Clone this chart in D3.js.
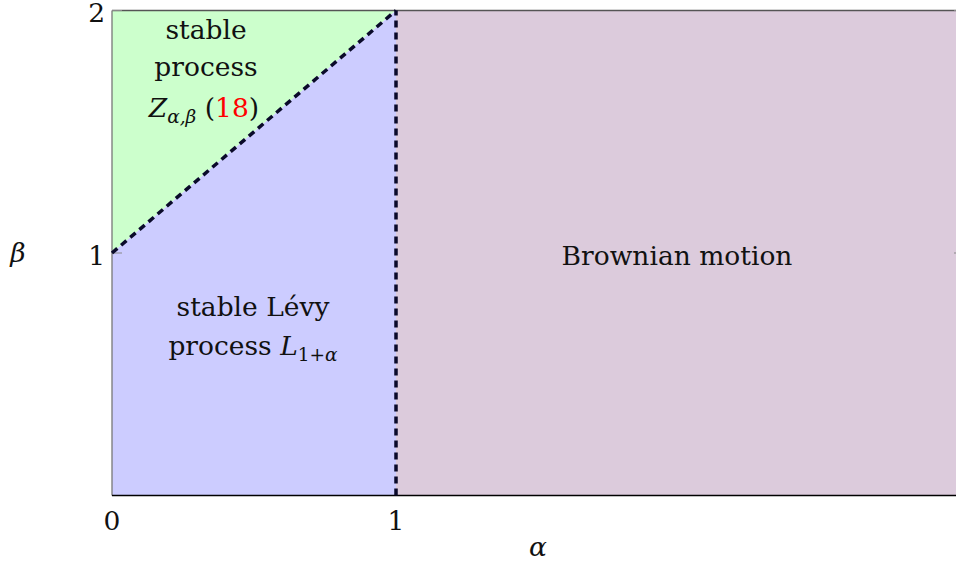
<!DOCTYPE html>
<html>
<head>
<meta charset="utf-8">
<script src="https://cdn.jsdelivr.net/npm/d3@7"></script>
<style>
body { margin: 0; background: #fff; }
</style>
</head>
<body>
<svg id="chart" width="956" height="569"></svg>
<script>
// regions of the (alpha, beta) plane
var greenRegion = [[0, 1], [1, 2], [0, 2]];
var blueRegion = [[0, 0], [1, 0], [1, 2], [0, 1]];
var mauveRegion = [[1, 0], [3, 0], [3, 2], [1, 2]];
var diagLine = [[0, 1], [1, 2]];
var vertLine = [[1, 0], [1, 2]];
var xTicks = [0, 1];
var yTicks = [1, 2];

var FONT = "'DejaVu Serif', 'Liberation Serif', 'Noto Serif', serif";
var FS = 26.5;

var svg = d3.select('#chart');
var x = d3.scaleLinear().domain([0, 3]).range([112, 964]);
var y = d3.scaleLinear().domain([0, 2]).range([495.5, 10.5]);
var line = d3.line().x(function(d){ return x(d[0]); }).y(function(d){ return y(d[1]); });

function region(pts, col){
	svg.append('path')
		.attr('d', line(pts) + 'Z')
		.attr('fill', col)
		.attr('stroke', 'none');
}
region(greenRegion, '#ccffcc');
region(blueRegion, '#ccccff');
region(mauveRegion, '#dccbdc');

// frame
svg.append('line').attr('x1', x(0)).attr('x2', x(3)).attr('y1', y(2)).attr('y2', y(2))
	.attr('stroke', '#555').attr('stroke-width', 1.3);
svg.append('line').attr('x1', x(0)).attr('x2', x(0)).attr('y1', y(0)).attr('y2', y(2))
	.attr('stroke', '#777').attr('stroke-width', 1.3);
svg.append('line').attr('x1', x(0)).attr('x2', x(3)).attr('y1', y(0)).attr('y2', y(0))
	.attr('stroke', '#000').attr('stroke-width', 1.5);

function txt(px, py, s, anchor){
	return svg.append('text').attr('x', px).attr('y', py)
		.attr('text-anchor', anchor || 'middle')
		.attr('font-family', FONT).attr('font-size', FS)
		.attr('fill', '#111').text(s);
}

// ticks
yTicks.forEach(function(t){
	svg.append('line').attr('x1', x(0)).attr('x2', x(0) + 10).attr('y1', y(t)).attr('y2', y(t))
		.attr('stroke', '#888').attr('stroke-width', 1);
	svg.append('line').attr('x1', x(3) - 10).attr('x2', x(3)).attr('y1', y(t)).attr('y2', y(t))
		.attr('stroke', '#888').attr('stroke-width', 1.2);
	txt(x(0) - 7, y(t) + 11.5, t, 'end');
});
xTicks.forEach(function(t){
	txt(x(t), 530, t);
});

// dashed boundaries
[diagLine, vertLine].forEach(function(l){
	svg.append('path')
		.attr('d', line(l))
		.attr('fill', 'none')
		.attr('stroke', '#0a0a2a')
		.attr('stroke-width', 3.5)
		.attr('stroke-dasharray', '7,5');
});

// axis labels
txt(18, 262, 'β').attr('font-style', 'italic');
txt(x(1.5), 556, 'α').attr('font-style', 'italic');

// region labels: parts {t, i: italic, c: colour, sub: subscript}
function label(cx, cy, parts){
	var t = txt(cx, cy, '');
	var down = false;
	parts.forEach(function(p){
		var s = t.append('tspan').text(p.t);
		if (p.i) s.attr('font-style', 'italic');
		if (p.c) s.attr('fill', p.c);
		if (p.sub){
			s.attr('font-size', FS * 0.7);
			if (!down){ s.attr('dy', 6); down = true; }
		} else if (down){
			s.attr('dy', -6); down = false;
		}
	});
}
label(206, 39, [{t: 'stable'}]);
label(206, 76, [{t: 'process'}]);
label(204, 117, [{t: 'Z', i: 1}, {t: 'α,β', i: 1, sub: 1}, {t: ' ('}, {t: '18', c: '#ff0000'}, {t: ')'}]);
label(253, 316, [{t: 'stable Lévy'}]);
label(253, 355, [{t: 'process '}, {t: 'L', i: 1}, {t: '1+', sub: 1}, {t: 'α', i: 1, sub: 1}]);
label(677, 265, [{t: 'Brownian motion'}]);
</script>
</body>
</html>
